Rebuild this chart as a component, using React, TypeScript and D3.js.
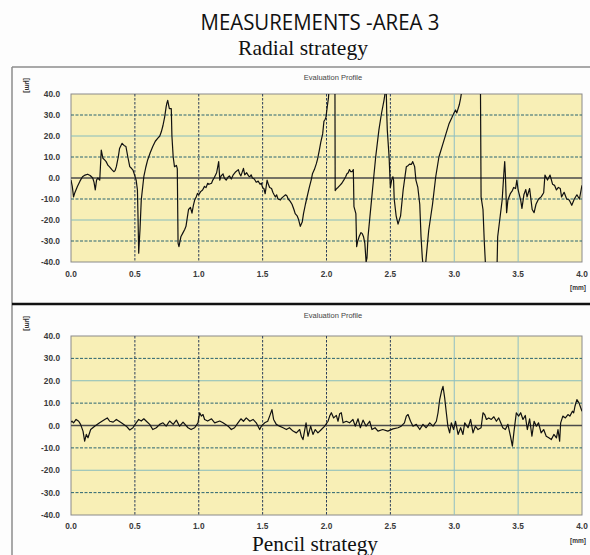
import React from "react";
import * as d3 from "d3";

// Evaluation profile, radial strategy: [position mm, height µm]
const radialProfile: [number, number][] = [
  [0.0,-1],[0.01,-4],[0.02,-9],[0.03,-7],[0.05,-4],[0.07,-1.5],[0.09,0.6],[0.11,1.4],[0.13,1.8],[0.15,1.2],
  [0.17,0],[0.18,-2],[0.19,-5.7],[0.2,-1],[0.21,0],[0.225,-1],[0.237,13.3],[0.25,9.4],[0.265,8.5],[0.275,7.8],
  [0.29,6],[0.3,5.4],[0.32,4],[0.335,3],[0.345,3.5],[0.355,5.4],[0.37,10],[0.38,14],[0.4,16.5],[0.415,15.5],
  [0.43,15],[0.445,10],[0.46,5.4],[0.475,4.5],[0.485,3.8],[0.5,1],[0.51,-1],[0.52,-5.7],[0.525,-20],[0.53,-35.8],
  [0.535,-30],[0.54,-24.8],[0.55,-10.5],[0.57,0.6],[0.585,5],[0.6,8.6],[0.62,12],[0.64,15],[0.66,17.5],[0.68,19],
  [0.695,20],[0.707,22],[0.72,25],[0.733,29],[0.745,34],[0.75,35.5],[0.757,37],[0.765,34.5],[0.77,33],[0.785,33],
  [0.79,20],[0.8,10],[0.81,5.4],[0.825,6],[0.832,4.5],[0.838,-31],[0.845,-32.7],[0.86,-28],[0.877,-26],[0.89,-24.5],
  [0.9,-23],[0.91,-19],[0.92,-15],[0.935,-14],[0.947,-16.7],[0.958,-13],[0.968,-10.5],[0.98,-9],[0.99,-7.3],[1.0,-8],
  [1.015,-6.5],[1.03,-5.7],[1.045,-4],[1.057,-4.6],[1.07,-2.5],[1.08,-3],[1.1,-2.5],[1.11,-1],[1.12,0],[1.14,2.5],
  [1.156,7.8],[1.165,-1],[1.175,1],[1.19,2],[1.2,0],[1.215,-1],[1.23,0.5],[1.24,1],[1.255,-0.5],[1.27,1.5],
  [1.29,3],[1.31,4],[1.32,2],[1.33,1],[1.35,4.6],[1.36,1.5],[1.375,2.5],[1.39,1],[1.4,0.6],[1.41,1.5],
  [1.42,0],[1.435,-0.5],[1.45,-2],[1.465,-1.5],[1.48,-3],[1.49,-2.5],[1.5,-4.6],[1.51,-5],[1.52,-7.5],[1.535,-1],
  [1.545,-3],[1.555,-4.5],[1.57,-5],[1.58,-6.8],[1.59,-8],[1.6,-9],[1.61,-8],[1.62,-10],[1.64,-10.5],[1.65,-9.5],
  [1.66,-9],[1.68,-8],[1.69,-8.5],[1.7,-10],[1.715,-11],[1.73,-12.5],[1.745,-15],[1.755,-17],[1.77,-18],[1.78,-19.5],
  [1.795,-23],[1.81,-21],[1.82,-17],[1.835,-12.5],[1.85,-8.5],[1.865,-4.6],[1.88,-1],[1.89,2],[1.905,4],[1.92,6.7],
  [1.93,9],[1.944,13.3],[1.955,17],[1.97,21],[1.98,27],[1.99,28],[1.996,29],[2.006,34],[2.015,38],[2.025,46],
  [2.045,52],[2.06,50],[2.066,45],[2.068,-6],[2.08,-5],[2.09,-4.5],[2.105,-3.5],[2.12,-2.5],[2.135,-1],[2.15,0.6],
  [2.16,2],[2.17,2.5],[2.18,4],[2.19,3],[2.2,3],[2.21,4],[2.215,-13.6],[2.23,-17],[2.236,-32.7],[2.245,-30],
  [2.255,-28],[2.27,-26],[2.28,-26.5],[2.29,-28],[2.3,-31],[2.31,-40],[2.317,-38],[2.325,-28],[2.34,-18.4],[2.36,-5.7],
  [2.385,10],[2.41,22.8],[2.43,30.6],[2.45,37],[2.46,41],[2.468,41],[2.472,30],[2.476,22.8],[2.49,10],[2.5,-4.5],
  [2.51,-1],[2.52,0.6],[2.525,-1],[2.53,-10],[2.545,-18],[2.56,-22],[2.575,-19],[2.58,-18],[2.6,-5.7],[2.625,5.4],
  [2.64,6],[2.65,6.6],[2.665,6.5],[2.675,7.8],[2.69,5.4],[2.7,-1],[2.715,-4.5],[2.73,-12.5],[2.74,-28],[2.75,-38],
  [2.76,-44],[2.775,-42],[2.78,-38],[2.8,-25],[2.83,-12.5],[2.855,0.6],[2.88,10],[2.91,16],[2.935,21],[2.96,26],
  [2.98,28.6],[2.99,30],[3.01,32.4],[3.02,31],[3.04,35],[3.05,38],[3.06,42],[3.1,60],[3.19,60],[3.205,45],
  [3.21,-9],[3.225,-15],[3.235,-30],[3.245,-42],[3.27,-55],[3.31,-55],[3.335,-42],[3.34,-28],[3.36,-18],[3.375,-10.5],
  [3.39,3.8],[3.395,7.8],[3.4,2],[3.41,-16.5],[3.42,-10.5],[3.44,-7.3],[3.455,-6],[3.465,-4.5],[3.48,-5],[3.49,-1],
  [3.5,-5.7],[3.52,-10.5],[3.53,-14.5],[3.545,-8],[3.56,-5.5],[3.57,-9],[3.59,-5],[3.61,-15],[3.625,-16.5],[3.64,-12.5],
  [3.66,-10],[3.68,-9],[3.7,-7],[3.71,1.4],[3.73,-1],[3.75,1.4],[3.77,-3],[3.785,-3.5],[3.8,-5.7],[3.815,-4.5],
  [3.83,-5],[3.84,-9],[3.86,-6.8],[3.88,-10],[3.9,-10.5],[3.92,-13],[3.94,-10],[3.96,-8],[3.98,-10],[3.995,-5],[4.0,-3.5],
];

// Evaluation profile, pencil strategy: [position mm, height µm]
const pencilProfile: [number, number][] = [
  [0.0,1.5],[0.008,1.9],[0.02,1.2],[0.04,2.7],[0.06,1.9],[0.075,0.5],[0.094,-2.5],[0.107,-7],[0.12,-4],[0.133,-5.5],
  [0.154,-1.8],[0.185,-0.3],[0.224,1.2],[0.264,2.7],[0.284,3.4],[0.303,1.9],[0.33,1.5],[0.355,2.7],[0.394,1.2],[0.433,-0.3],
  [0.46,-2],[0.485,-1],[0.51,1.2],[0.53,2.7],[0.55,2],[0.57,3],[0.59,1.9],[0.616,0.5],[0.64,-1.8],[0.668,-1],
  [0.694,0.5],[0.72,1.2],[0.745,-0.3],[0.772,2],[0.8,0.5],[0.825,2.4],[0.85,-0.3],[0.877,1.5],[0.916,-1],[0.94,-1.8],
  [0.968,-1],[0.994,1.2],[1.007,5.7],[1.02,4.2],[1.033,4.9],[1.046,2.7],[1.07,2],[1.1,3],[1.125,1.2],[1.164,2],
  [1.19,1.2],[1.23,-0.3],[1.255,-1.8],[1.28,-1],[1.307,1.2],[1.33,3],[1.35,1.9],[1.372,3.4],[1.4,1.9],[1.425,2.7],
  [1.45,1.2],[1.477,-1.8],[1.49,-0.3],[1.516,1.2],[1.54,1.9],[1.555,4.2],[1.573,7.1],[1.586,2.7],[1.607,0.5],[1.633,-0.3],
  [1.66,-1],[1.686,-1.8],[1.71,-1],[1.738,-2.5],[1.764,-3.3],[1.79,-1.8],[1.803,-4.8],[1.816,-6.3],[1.83,-1.8],[1.84,1.2],
  [1.855,-4.8],[1.876,-0.3],[1.894,-4],[1.912,-1.8],[1.933,-3.3],[1.96,-1.8],[1.986,-0.3],[2.012,1.9],[2.025,4.2],[2.038,5.7],
  [2.056,3.4],[2.077,4.5],[2.09,1.9],[2.103,5.2],[2.116,5.7],[2.13,1.2],[2.155,1.9],[2.18,1.2],[2.207,2.7],[2.225,-0.3],
  [2.247,3],[2.265,-1],[2.286,2.4],[2.31,-0.3],[2.338,1.9],[2.356,-1.8],[2.38,-1],[2.403,-2.5],[2.44,-1.8],[2.48,-2.5],
  [2.52,-1.5],[2.56,-1],[2.585,-0.3],[2.61,1.2],[2.625,4.2],[2.638,4.9],[2.658,1.9],[2.677,-0.3],[2.703,0.5],[2.73,-1.8],
  [2.755,0.5],[2.78,-1],[2.808,1.2],[2.834,-0.3],[2.86,1.9],[2.873,5.7],[2.886,11.6],[2.9,15.3],[2.912,17.5],[2.925,12.4],
  [2.938,5.7],[2.95,-0.3],[2.964,-3.3],[2.977,1.2],[2.995,-1.8],[3.01,1.9],[3.03,-4],[3.05,-1],[3.068,-4],[3.082,1.2],
  [3.108,-1],[3.128,2.7],[3.147,-3.3],[3.165,-0.3],[3.186,-1.8],[3.21,-1],[3.225,5.7],[3.238,4.9],[3.252,2.7],[3.27,3.4],
  [3.29,2.7],[3.31,3.9],[3.33,1.9],[3.348,3.4],[3.364,1.2],[3.38,-1],[3.4,-1.8],[3.42,0.5],[3.44,-4.8],[3.455,-9.2],
  [3.468,-2.5],[3.486,5.7],[3.504,4.2],[3.52,5.7],[3.538,2.7],[3.556,4.5],[3.572,-1.8],[3.59,3],[3.608,-4.8],[3.625,1.9],
  [3.643,-0.3],[3.66,1.2],[3.68,-3.3],[3.7,-1.8],[3.72,-4.8],[3.74,-5.5],[3.76,-6.3],[3.78,-4],[3.8,-5.5],[3.812,-1.8],
  [3.825,-7],[3.833,1.2],[3.85,4.2],[3.87,3.4],[3.89,4.9],[3.905,4.2],[3.925,6.4],[3.935,5.7],[3.945,8.6],[3.96,11.6],
  [3.977,10],[3.99,7.9],[4.0,6.4],
];

const xTicks = [0, 0.5, 1.0, 1.5, 2.0, 2.5, 3.0, 3.5, 4.0];
const yTicks = [40, 30, 20, 10, 0, -10, -20, -30, -40];

const mainTitle = "MEASUREMENTS -AREA 3";
const topTitle = "Radial strategy";
const bottomTitle = "Pencil strategy";
const panelTitle = "Evaluation Profile";
const yUnit = "[µm]";
const xUnit = "[mm]";

const W = 590;
const H = 555;
const LABEL_FONT = "'Liberation Sans', Arial, sans-serif";

type PanelProps = {
  id: string;
  data: [number, number][];
  top: number;
  bottom: number;
  panelTop: number;
  labelGap: number;
};

function Panel({ id, data, top, bottom, panelTop, labelGap }: PanelProps) {
  const left = 71;
  const right = 582;
  const x = d3.scaleLinear().domain([0, 4]).range([left, right]);
  const y = d3.scaleLinear().domain([-40, 40]).range([bottom, top]);
  const line = d3
    .line<[number, number]>()
    .x((d) => x(d[0]))
    .y((d) => y(d[1]));

  const hGridColor = (v: number) =>
    Math.abs(v) === 20 ? "#86bcbc" : "#2a6470";
  const vGridDark = (v: number) => v <= 2.5;

  return (
    <g>
      <defs>
        <clipPath id={`clip-${id}`}>
          <rect x={left} y={top} width={right - left} height={bottom - top} />
        </clipPath>
      </defs>
      <text
        x={333}
        y={panelTop + 13}
        textAnchor="middle"
        fontFamily={LABEL_FONT}
        fontSize={7.5}
        fill="#444"
      >
        {panelTitle}
      </text>
      <text
        transform={`translate(25, ${panelTop + 11}) rotate(90)`}
        fontFamily={LABEL_FONT}
        fontSize={7}
        fontWeight="bold"
        fill="#333"
      >
        {yUnit}
      </text>
      <rect
        x={left}
        y={top}
        width={right - left}
        height={bottom - top}
        fill="#f8efb6"
        stroke="#8a8a8a"
        strokeWidth={1}
      />
      {yTicks
        .filter((v) => v !== 0 && Math.abs(v) !== 40)
        .map((v) => (
          <line
            key={`h${v}`}
            x1={left}
            x2={right}
            y1={y(v)}
            y2={y(v)}
            stroke={hGridColor(v)}
            strokeWidth={1}
            strokeDasharray={Math.abs(v) === 20 ? undefined : "3,1.5"}
          />
        ))}
      {xTicks
        .filter((v) => v > 0 && v < 4)
        .map((v) => (
          <line
            key={`v${v}`}
            x1={x(v)}
            x2={x(v)}
            y1={top}
            y2={bottom}
            stroke={vGridDark(v) ? "#2c3e5a" : "#8fbfc4"}
            strokeWidth={1}
            strokeDasharray={vGridDark(v) ? "2.5,1.5" : undefined}
          />
        ))}
      <line
        x1={left}
        x2={right}
        y1={y(0)}
        y2={y(0)}
        stroke="#4a4a4a"
        strokeWidth={1.5}
      />
      <path
        d={line(data) ?? ""}
        fill="none"
        stroke="#111"
        strokeWidth={1.2}
        strokeLinejoin="round"
        clipPath={`url(#clip-${id})`}
      />
      {yTicks.map((v) => (
        <text
          key={`yl${v}`}
          x={60}
          y={y(v) + 3}
          textAnchor="end"
          fontFamily={LABEL_FONT}
          fontSize={8.3}
          fontWeight="bold"
          fill="#3a3a3a"
        >
          {v.toFixed(1)}
        </text>
      ))}
      {xTicks.map((v) => (
        <text
          key={`xl${v}`}
          x={x(v)}
          y={bottom + labelGap}
          textAnchor="middle"
          fontFamily={LABEL_FONT}
          fontSize={8.3}
          fontWeight="bold"
          fill="#3a3a3a"
        >
          {v.toFixed(1)}
        </text>
      ))}
      <text
        x={x(4) - 12}
        y={bottom + 28}
        fontFamily={LABEL_FONT}
        fontSize={6.5}
        fontWeight="bold"
        fill="#333"
      >
        {xUnit}
      </text>
    </g>
  );
}

export default function App() {
  return (
    <svg
      width={W}
      height={H}
      viewBox={`0 0 ${W} ${H}`}
      style={{ position: "absolute", left: 0, top: 0, background: "#fff" }}
    >
      <rect x={0} y={0} width={W} height={H} fill="#fdfdfd" />
      <text
        x={320}
        y={30}
        textAnchor="middle"
        fontFamily="'Open Sans', 'Noto Sans', sans-serif"
        fontSize={21}
        textLength={239}
        lengthAdjust="spacingAndGlyphs"
        fill="#111"
      >
        {mainTitle}
      </text>
      <text
        x={303}
        y={55}
        textAnchor="middle"
        fontFamily="'Liberation Serif', 'Times New Roman', serif"
        fontSize={21}
        textLength={130}
        lengthAdjust="spacingAndGlyphs"
        fill="#111"
      >
        {topTitle}
      </text>

      {/* panel frames */}
      <line x1={12} x2={W} y1={67} y2={67} stroke="#8c8c8c" strokeWidth={1.5} />
      <line x1={12} x2={12} y1={67} y2={H} stroke="#8c8c8c" strokeWidth={1.5} />
      <line x1={12} x2={W} y1={304} y2={304} stroke="#111" strokeWidth={2.5} />

      <Panel id="radial" data={radialProfile} top={94} bottom={262} panelTop={67} labelGap={15} />
      <Panel id="pencil" data={pencilProfile} top={336} bottom={515} panelTop={305} labelGap={13.5} />

      <text
        x={315}
        y={550.5}
        textAnchor="middle"
        fontFamily="'Liberation Serif', 'Times New Roman', serif"
        fontSize={20}
        textLength={126}
        lengthAdjust="spacingAndGlyphs"
        fill="#111"
      >
        {bottomTitle}
      </text>
    </svg>
  );
}
